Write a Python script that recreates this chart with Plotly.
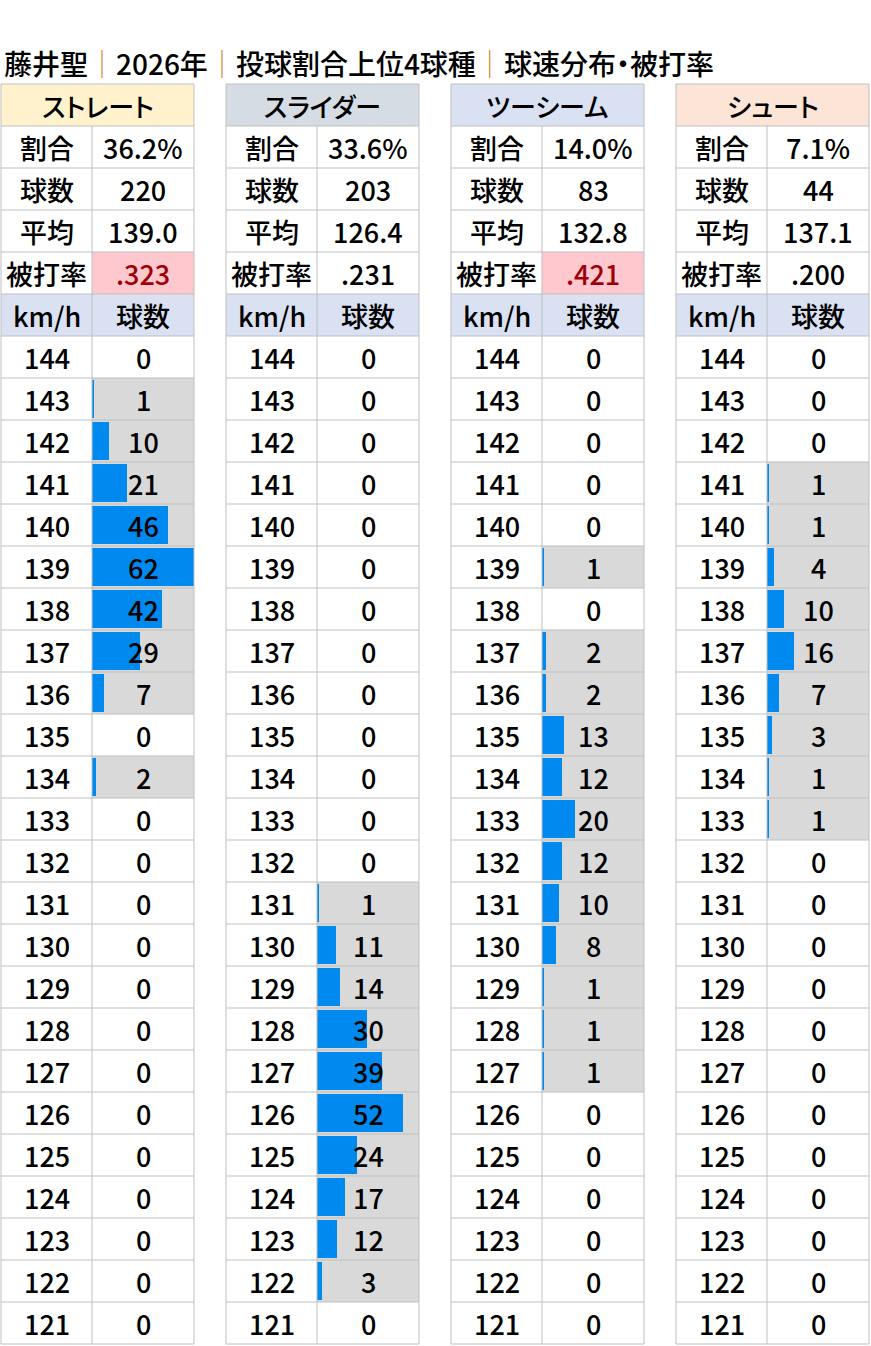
import plotly.graph_objects as go

# data
speeds = list(range(144, 120, -1))
pitch_names = ['ストレート', 'スライダー', 'ツーシーム', 'シュート']
share = ['36.2%', '33.6%', '14.0%', '7.1%']
totals = [220, 203, 83, 44]
avg_speed = ['139.0', '126.4', '132.8', '137.1']
opp_avg = [.323, .231, .421, .200]

straight = [0, 1, 10, 21, 46, 62, 42, 29, 7, 0, 2, 0, 0, 0, 0, 0, 0, 0, 0, 0, 0, 0, 0, 0]
slider = [0, 0, 0, 0, 0, 0, 0, 0, 0, 0, 0, 0, 0, 1, 11, 14, 30, 39, 52, 24, 17, 12, 3, 0]
two_seam = [0, 0, 0, 0, 0, 1, 0, 2, 2, 13, 12, 20, 12, 10, 8, 1, 1, 1, 0, 0, 0, 0, 0, 0]
shoot = [0, 0, 0, 1, 1, 4, 10, 16, 7, 3, 1, 1, 0, 0, 0, 0, 0, 0, 0, 0, 0, 0, 0, 0]
counts = [straight, slider, two_seam, shoot]

# layout constants
W, H = 871, 1346
TOP, ROW_H = 84, 42
LEFTS = [1, 226, 451, 676]
W1, W2 = 91, 102
HEAD_COLORS = ['#FFF2CC', '#D6DCE4', '#D9E1F2', '#FCE4D6']
SUB_COLOR = '#D9E1F2'
LINE = '#BFBFBF'
BAR = '#008AEF'
GRAY = '#D9D9D9'
FONT = 'Noto Sans CJK JP'
FS = 27

n_rows = 6 + len(speeds)
bottom = TOP + n_rows * ROW_H
vmax = max(max(c) for c in counts)


def px(x):
    return x / W


def py(y):
    return 1 - y / H


fig = go.Figure()
shapes = []
annotations = []

layout_axes = {}
layout_axes['yaxis'] = dict(domain=[py(bottom), py(TOP)], range=[n_rows - 0.5, -0.5],
                            visible=False, fixedrange=True)
layout_axes['xaxis'] = dict(range=[0, 1], visible=False, fixedrange=True)

for k in range(4):
    left = LEFTS[k]
    mid = left + W1
    right = mid + W2
    ax = 'x%d' % (k + 2)
    layout_axes['xaxis%d' % (k + 2)] = dict(domain=[px(mid), px(right)], range=[0, vmax],
                                            visible=False, fixedrange=True, anchor='y')
    rows = [6 + i for i, v in enumerate(counts[k]) if v > 0]
    vals = [v for v in counts[k] if v > 0]
    fig.add_trace(go.Bar(x=[vmax] * len(rows), y=rows, orientation='h', width=1.0,
                         marker=dict(color=GRAY, line=dict(width=0)),
                         xaxis=ax, yaxis='y', hoverinfo='skip', showlegend=False))
    fig.add_trace(go.Bar(x=vals, y=rows, orientation='h', width=0.9, base=0.25,
                         marker=dict(color=BAR, line=dict(width=0)),
                         xaxis=ax, yaxis='y', showlegend=False))

    # cell fills
    shapes.append(dict(type='rect', xref='paper', yref='paper', layer='below',
                       x0=px(left), x1=px(right), y0=py(TOP), y1=py(TOP + ROW_H),
                       fillcolor=HEAD_COLORS[k], line=dict(width=0)))
    shapes.append(dict(type='rect', xref='paper', yref='paper', layer='below',
                       x0=px(left), x1=px(right), y0=py(TOP + 5 * ROW_H), y1=py(TOP + 6 * ROW_H),
                       fillcolor=SUB_COLOR, line=dict(width=0)))
    hit = opp_avg[k] >= 0.3
    if hit:
        shapes.append(dict(type='rect', xref='paper', yref='paper', layer='below',
                           x0=px(mid), x1=px(right), y0=py(TOP + 4 * ROW_H), y1=py(TOP + 5 * ROW_H),
                           fillcolor='#FFC7CE', line=dict(width=0)))

    # grid lines
    for r in range(n_rows + 1):
        y = TOP + r * ROW_H
        shapes.append(dict(type='line', xref='paper', yref='paper', layer='above',
                           x0=px(left), x1=px(right), y0=py(y), y1=py(y),
                           line=dict(color=LINE, width=1)))
    for x in (left, right):
        shapes.append(dict(type='line', xref='paper', yref='paper', layer='above',
                           x0=px(x), x1=px(x), y0=py(TOP), y1=py(bottom),
                           line=dict(color=LINE, width=1)))
    shapes.append(dict(type='line', xref='paper', yref='paper', layer='above',
                       x0=px(mid), x1=px(mid), y0=py(TOP + ROW_H), y1=py(bottom),
                       line=dict(color=LINE, width=1)))

    # texts
    def cell(x, row, text, color='black', size=FS):
        annotations.append(dict(xref='paper', yref='y', x=px(x), y=row, text=text,
                                showarrow=False, xanchor='center', yanchor='middle',
                                font=dict(family=FONT, size=size, color=color, weight=500)))

    c1 = left + W1 / 2
    c2 = mid + W2 / 2
    cell((left + right) / 2, 0, pitch_names[k], size=26)
    cell(c1, 1, '割合')
    cell(c2, 1, share[k])
    cell(c1, 2, '球数')
    cell(c2, 2, str(totals[k]))
    cell(c1, 3, '平均')
    cell(c2, 3, avg_speed[k])
    cell(c1, 4, '被打率')
    cell(c2, 4, ('%.3f' % opp_avg[k])[1:], '#9C0006' if hit else 'black')
    cell(c1, 5, 'km/h')
    cell(c2, 5, '球数')
    for i, s in enumerate(speeds):
        cell(c1, 6 + i, str(s))
        cell(c2, 6 + i, str(counts[k][i]))

sep = "<span style='color:#D4852F'>│</span>"
annotations.append(dict(xref='paper', yref='paper', x=px(-5), y=py(63),
                        text='藤井聖' + sep + '2026年' + sep + '投球割合上位4球種' + sep + '球速分布・被打率',
                        showarrow=False, xanchor='left', yanchor='middle',
                        font=dict(family=FONT, size=28, color='black', weight=500)))

fig.update_layout(width=W, height=H, margin=dict(l=0, r=0, t=0, b=0),
                  paper_bgcolor='white', plot_bgcolor='rgba(0,0,0,0)',
                  barmode='overlay', bargap=0, showlegend=False,
                  shapes=shapes, annotations=annotations, **layout_axes)

fig.write_html('out.html', config={'displayModeBar': False}, post_script=(
    "document.body.style.margin='0';"
    "document.head.insertAdjacentHTML('beforeend',"
    "'<style>.annotation-text{font-feature-settings:\"palt\";}</style>');"))
